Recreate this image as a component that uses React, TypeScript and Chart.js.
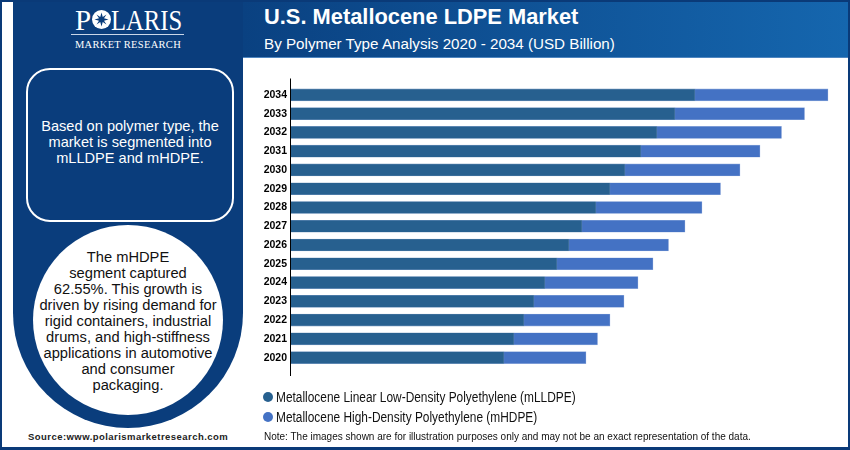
import { useEffect, useRef } from "react"
import { Chart, registerables, type ChartConfiguration, type Plugin } from "chart.js"

Chart.register(...registerables)

const years = ["2020", "2021", "2022", "2023", "2024", "2025", "2026", "2027", "2028", "2029", "2030", "2031", "2032", "2033", "2034"]
const mlldpe = [2.13, 2.23, 2.33, 2.43, 2.54, 2.66, 2.78, 2.91, 3.05, 3.19, 3.34, 3.5, 3.66, 3.84, 4.04]
const mhdpe = [0.82, 0.835, 0.86, 0.9, 0.93, 0.96, 0.995, 1.03, 1.06, 1.105, 1.15, 1.19, 1.245, 1.295, 1.33]
const seriesNames = ["Metallocene Linear Low-Density Polyethylene (mLLDPE)", "Metallocene High-Density Polyethylene (mHDPE)"]
const seriesColors = ["#27608f", "#4472c4"]

const navy = "#0a3d7c"
const sans = "'Liberation Sans', Arial, sans-serif"
const serif = "'Liberation Serif', serif"

// y axis line runs a little past the first and last bar
const longAxisLine: Plugin<"bar"> = {
  id: "longAxisLine",
  afterDraw(chart) {
    const { ctx, chartArea, scales } = chart
    const x = scales.x.getPixelForValue(0)
    ctx.save()
    ctx.strokeStyle = "#000"
    ctx.lineWidth = 1
    ctx.beginPath()
    ctx.moveTo(x - 0.5, chartArea.top - 7)
    ctx.lineTo(x - 0.5, chartArea.bottom + 9)
    ctx.stroke()
    ctx.restore()
  },
}

function BarChart() {
  const canvasRef = useRef<HTMLCanvasElement>(null)

  useEffect(() => {
    if (!canvasRef.current) return

    const config: ChartConfiguration<"bar"> = {
      type: "bar",
      data: {
        labels: years,
        datasets: [
          { label: seriesNames[0], data: mlldpe, backgroundColor: seriesColors[0], borderColor: "#6f93bd", borderWidth: 0.6, barThickness: 12 },
          { label: seriesNames[1], data: mhdpe, backgroundColor: seriesColors[1], borderColor: "#8faadc", borderWidth: 0.6, barThickness: 12 },
        ],
      },
      options: {
        indexAxis: "y",
        animation: false,
        responsive: true,
        maintainAspectRatio: false,
        layout: { padding: { left: 0, right: 8, top: 27.5, bottom: 65 } },
        scales: {
          x: { stacked: true, display: false, min: 0, max: 5.49 },
          y: {
            stacked: true,
            reverse: true,
            grid: { display: false, drawTicks: false },
            border: { display: false },
            ticks: {
              color: "#000",
              padding: 4,
              autoSkip: false,
              font: { family: "'Liberation Sans'", size: 10.5, weight: "bold" },
            },
            afterFit(scale) {
              scale.width = 48
            },
          },
        },
        plugins: {
          legend: { display: false },
          tooltip: { enabled: false },
        },
      },
      plugins: [longAxisLine],
    }

    const chart = new Chart(canvasRef.current, config)
    return () => chart.destroy()
  }, [])

  return <canvas ref={canvasRef} />
}

function Logo() {
  const letter = { position: "absolute", top: 4, fontFamily: serif, fontSize: 29, lineHeight: "32px", color: "#fff" } as const
  return (
    <>
      <span style={{ ...letter, left: 75 }}>P</span>
      <svg style={{ position: "absolute", left: 92, top: 10 }} width={19} height={19} viewBox="0 0 38 38">
        <circle cx={19} cy={19} r={19} fill="#fff" />
        <polygon
          fill={navy}
          points="19,5 21.5,14 29,9 24,16.5 33,19 24,21.5 29,29 21.5,24 19,33 16.5,24 9,29 14,21.5 5,19 14,16.5 9,9 16.5,14"
        />
      </svg>
      <span style={{ ...letter, left: 111, transform: "scaleX(0.85)", transformOrigin: "left" }}>LARIS</span>
      <div style={{ position: "absolute", left: 71, top: 34, width: 113, height: 1, background: "#c9d6e8" }} />
      <div style={{ position: "absolute", left: 60, width: 136, top: 38, textAlign: "center", fontFamily: serif, fontSize: 10.5, lineHeight: "14px", color: "#fff", letterSpacing: 0.3, whiteSpace: "nowrap" }}>
        MARKET RESEARCH
      </div>
    </>
  )
}

export default function App() {
  return (
    <div style={{ position: "absolute", left: 0, top: 0, width: 850, height: 450, background: "#fff", overflow: "hidden", fontFamily: sans }}>
      {/* left panel */}
      <div style={{ position: "absolute", left: 13, top: 2, width: 230, height: 426, background: navy, borderRadius: "0 0 115px 115px" }} />
      <Logo />
      <div
        style={{
          position: "absolute", left: 26, top: 68, width: 204, height: 150, border: "2px solid #fff", borderRadius: 24,
          display: "flex", alignItems: "center", justifyContent: "center", textAlign: "center",
          color: "#fff", fontSize: 14.6, lineHeight: "16px", boxSizing: "content-box",
        }}
      >
        <div style={{ whiteSpace: "nowrap", marginBottom: 6 }}>Based on polymer type, the<br />market is segmented into<br />mLLDPE and mHDPE.</div>
      </div>
      <div
        style={{
          position: "absolute", left: 33, top: 225, width: 190, height: 190, borderRadius: "50%", background: "#fff",
          display: "flex", alignItems: "center", justifyContent: "center", textAlign: "center",
          color: "#111", fontSize: 14.7, lineHeight: "16px",
        }}
      >
        <div style={{ whiteSpace: "nowrap", marginTop: 2 }}>
          The mHDPE<br />segment captured<br />62.55%. This growth is<br />driven by rising demand for<br />rigid containers, industrial<br />
          drums, and high-stiffness<br />applications in automotive<br />and consumer<br />packaging.
        </div>
      </div>

      {/* header */}
      <div style={{ position: "absolute", left: 243, top: 2, width: 605, height: 56, background: "linear-gradient(90deg, #0a4181, #1566ae)", borderBottom: "1px solid #4f86c0", boxSizing: "border-box" }} />
      <div style={{ position: "absolute", left: 264, top: 5, fontSize: 21.85, lineHeight: "24px", fontWeight: "bold", color: "#fff", whiteSpace: "nowrap" }}>U.S. Metallocene LDPE Market</div>
      <div style={{ position: "absolute", left: 264, top: 35, fontSize: 15.2, lineHeight: "18px", color: "#fff", whiteSpace: "nowrap" }}>By Polymer Type Analysis 2020 - 2034 (USD Billion)</div>

      {/* chart */}
      <div style={{ position: "absolute", left: 243, top: 58, width: 605, height: 374 }}>
        <BarChart />
      </div>

      {/* legend */}
      {seriesNames.map((name, i) => (
        <div key={name} style={{ position: "absolute", left: 263, top: 388 + i * 20, height: 18, display: "flex", alignItems: "center", whiteSpace: "nowrap" }}>
          <span style={{ width: 10, height: 10, borderRadius: "50%", background: seriesColors[i], marginRight: 3 }} />
          <span style={{ fontSize: 14, color: "#111", transform: "scaleX(0.85)", transformOrigin: "left" }}>{name}</span>
        </div>
      ))}

      {/* footer */}
      <div style={{ position: "absolute", left: 28, top: 431, fontSize: 9.5, lineHeight: "12px", fontWeight: "bold", color: "#222", letterSpacing: 0.45, whiteSpace: "nowrap" }}>Source:www.polarismarketresearch.com</div>
      <div style={{ position: "absolute", left: 264, top: 431, fontSize: 10, lineHeight: "12px", color: "#111", whiteSpace: "nowrap" }}>Note: The images shown are for illustration purposes only and may not be an exact representation of the data.</div>

      {/* outer frame */}
      <div style={{ position: "absolute", left: 0, top: 0, width: 850, height: 450, border: "2px solid #0a3a78", borderBottomWidth: 3, boxSizing: "border-box", pointerEvents: "none" }} />
    </div>
  )
}
